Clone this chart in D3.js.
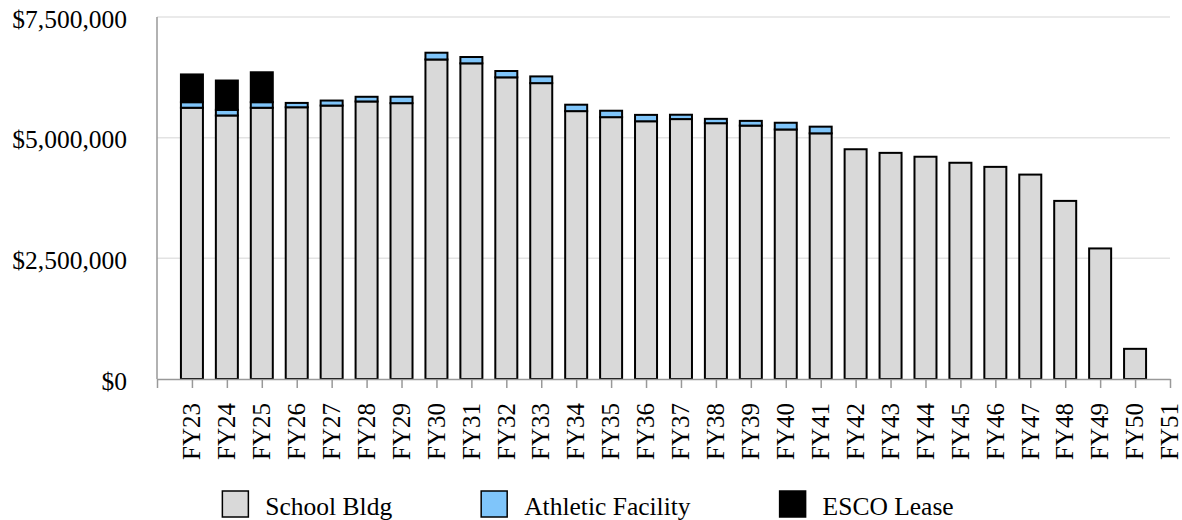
<!DOCTYPE html>
<html>
<head>
<meta charset="utf-8">
<script src="https://cdn.jsdelivr.net/npm/d3@7"></script>
<style>
  html, body { margin: 0; padding: 0; background: #fff; }
  svg { display: block; }
  text { font-family: "Liberation Serif", "Times New Roman", serif; fill: #000; }
</style>
</head>
<body>
<svg id="chart" width="1182" height="520"></svg>
<script>
// ---- data ----
const categories = ["FY23","FY24","FY25","FY26","FY27","FY28","FY29","FY30","FY31","FY32",
  "FY33","FY34","FY35","FY36","FY37","FY38","FY39","FY40","FY41","FY42",
  "FY43","FY44","FY45","FY46","FY47","FY48","FY49","FY50","FY51"];
const schoolBldg = [5620000,5460000,5620000,5630000,5665000,5750000,5715000,6620000,6540000,6250000,
  6130000,5550000,5425000,5340000,5385000,5300000,5250000,5170000,5090000,4760000,
  4685000,4605000,4480000,4395000,4235000,3690000,2705000,625000,0];
const athleticFacility = [115000,117000,115000,90000,104000,97000,133000,140000,131000,131000,
  139000,133000,133000,132000,90000,90000,98000,139000,138000,0,
  0,0,0,0,0,0,0,0,0];
const escoLease = [575000,607000,620000,0,0,0,0,0,0,0,
  0,0,0,0,0,0,0,0,0,0,
  0,0,0,0,0,0,0,0,0];
const seriesNames = ["School Bldg","Athletic Facility","ESCO Lease"];
const seriesColors = ["#d9d9d9","#7fc5fa","#000000"];
const yTicks = [0,2500000,5000000,7500000];

// ---- layout ----
const svg = d3.select("#chart");
const plotLeft = 157, plotRight = 1170, plotTop = 17, plotBottom = 379;

const rows = categories.map((c,i) => ({cat:c, s0:schoolBldg[i], s1:athleticFacility[i], s2:escoLease[i]}));
const keys = ["s0","s1","s2"];
const stacked = d3.stack().keys(keys)(rows);

const x = d3.scalePoint().domain([""].concat(categories)).range([plotLeft, plotRight]);
const y = d3.scaleLinear().domain([0, 7500000]).range([plotBottom, plotTop]);
const color = d3.scaleOrdinal().domain(keys).range(seriesColors);
const barW = 22;

// gridlines
svg.append("g").selectAll("line").data(yTicks.filter(d => d > 0)).join("line")
  .attr("x1", plotLeft).attr("x2", plotRight)
  .attr("y1", d => y(d)).attr("y2", d => y(d))
  .attr("stroke", "#e3e3e3").attr("stroke-width", 1.5);

// y axis line
svg.append("line").attr("x1", plotLeft).attr("x2", plotLeft)
  .attr("y1", y(7500000)).attr("y2", plotBottom)
  .attr("stroke", "#999").attr("stroke-width", 1.5);

// y labels
const fmt = d3.format("$,.0f");
svg.append("g").selectAll("text").data(yTicks).join("text")
  .attr("x", 127).attr("y", d => y(d)).attr("dy", "0.42em")
  .attr("text-anchor", "end").attr("font-size", 25.5)
  .text(d => fmt(d));

// bars
svg.append("g").selectAll("g").data(stacked).join("g")
  .attr("fill", d => color(d.key))
  .selectAll("rect").data(d => d.filter(p => p[1] - p[0] > 0)).join("rect")
  .attr("x", d => x(d.data.cat) - barW/2)
  .attr("width", barW)
  .attr("y", d => y(d[1]))
  .attr("height", d => y(d[0]) - y(d[1]))
  .attr("stroke", "#000").attr("stroke-width", 2);

// x axis
const xAxis = svg.append("g").attr("transform", `translate(0,${plotBottom})`)
  .call(d3.axisBottom(x).tickSize(9).tickSizeOuter(0).tickFormat(""));
xAxis.select(".domain").attr("stroke", "#999").attr("stroke-width", 1.5);
xAxis.selectAll(".tick line").attr("stroke", "#999").attr("stroke-width", 1.5);

// x labels
svg.append("g").selectAll("text").data(categories).join("text")
  .attr("transform", d => `translate(${x(d)},403) rotate(-90)`)
  .attr("dy", "0.33em")
  .attr("text-anchor", "end").attr("font-size", 25)
  .text(d => d);

// legend
const legend = svg.append("g");
const items = legend.selectAll("g").data(seriesNames).join("g");
items.append("rect").attr("width", 26).attr("height", 26).attr("y", 491)
  .attr("fill", (d,i) => seriesColors[i]).attr("stroke", "#000").attr("stroke-width", 1.5);
items.append("text").attr("x", 43).attr("y", 515).attr("font-size", 25.5).text(d => d);
const widths = [];
items.select("text").each(function(){ widths.push(this.getComputedTextLength()); });
const gap = 89;
const total = widths.reduce((a,w) => a + 43 + w, 0) + gap * (widths.length - 1);
let cx = 588 - total/2;
items.each(function(d,i){
  d3.select(this).attr("transform", `translate(${cx},0)`);
  cx += 43 + widths[i] + gap;
});
</script>
</body>
</html>
